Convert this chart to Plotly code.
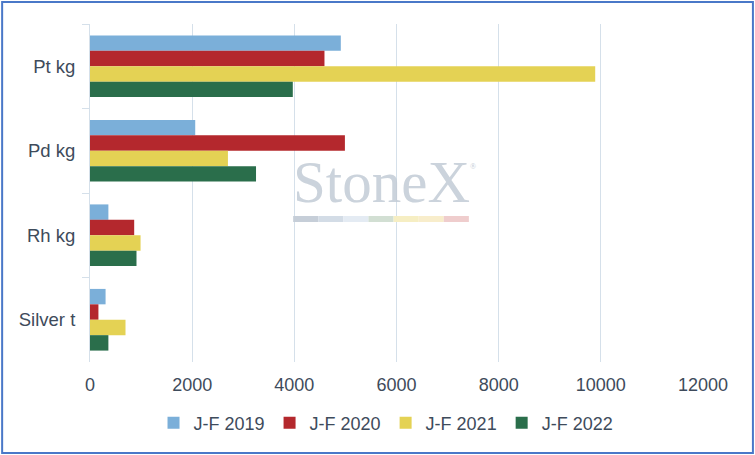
import plotly.graph_objects as go

metals = ["Pt kg", "Pd kg", "Rh kg", "Silver t"]
periods = ["J-F 2019", "J-F 2020", "J-F 2021", "J-F 2022"]
values = {
    "J-F 2019": [4910, 2060, 360, 305],
    "J-F 2020": [4590, 4990, 865, 165],
    "J-F 2021": [9890, 2700, 990, 695],
    "J-F 2022": [3970, 3250, 910, 360],
}
colors = ["#7bafd9", "#b4282d", "#e4d254", "#2a6e4b"]
x_ticks = [0, 2000, 4000, 6000, 8000, 10000, 12000]
x_labels = ["0", "2000", "4000", "6000", "8000", "10000", "12000"]
strip_colors = ["#c6ced8", "#d3dce6", "#e4ebf3", "#d2dfd3", "#f6eec3", "#f8edcb", "#efcdcd"]

text_col = "#3e4b5b"
grid_col = "#d5e0ea"

fig = go.Figure()
for name, col in zip(periods, colors):
    fig.add_trace(go.Bar(
        y=metals, x=values[name], name=name, orientation="h",
        marker=dict(color=col, line=dict(width=0)),
    ))

# plot area geometry in pixels (for the frame and watermark)
L, R, T, B = 89.5, 703.5, 24, 362
W, H = R - L, B - T

def px(x):
    return (x - L) / W

def py(y):
    return (B - y) / H

shapes = [dict(type="rect", xref="paper", yref="paper",
               x0=px(1.5), x1=px(753.5), y0=py(453), y1=py(2),
               line=dict(color="#4a78c8", width=2), layer="above")]
seg = (469 - 293) / len(strip_colors)
for i, c in enumerate(strip_colors):
    shapes.append(dict(type="rect", xref="paper", yref="paper",
                       x0=px(293 + i * seg), x1=px(293 + (i + 1) * seg),
                       y0=py(222), y1=py(216), line=dict(width=0),
                       fillcolor=c, layer="above"))

fig.update_layout(
    width=755, height=455,
    margin=dict(l=L, r=755 - R, t=T, b=455 - B),
    paper_bgcolor="white", plot_bgcolor="white",
    barmode="group", bargap=0.27, bargroupgap=0,
    font=dict(family="Liberation Sans, Arial, sans-serif", size=18, color=text_col),
    showlegend=True,
    legend=dict(orientation="h", x=px(386), xanchor="center", y=py(423), yanchor="middle",
                font=dict(size=18, color=text_col), itemwidth=30,
                traceorder="normal"),
    xaxis=dict(range=[0, 12000], tickvals=x_ticks, ticktext=x_labels, showgrid=True,
               gridcolor=grid_col, gridwidth=1, zeroline=False, showline=False, ticks="",
               ticklabelstandoff=10, fixedrange=True),
    yaxis=dict(autorange="reversed", showline=True, linecolor=grid_col, linewidth=1,
               ticks="outside", tickson="boundaries", ticklen=7, tickcolor=grid_col,
               showgrid=False, ticklabelstandoff=10, tickfont=dict(size=18.5)),
    shapes=shapes,
    annotations=[
        dict(text="StoneX", xref="paper", yref="paper", x=px(381), y=py(182),
             showarrow=False, font=dict(family="Liberation Serif, Times New Roman, serif",
                                         size=59, color="#c3ccd6"), opacity=0.85),
        dict(text="®", xref="paper", yref="paper", x=px(473), y=py(166),
             showarrow=False, font=dict(family="Liberation Serif", size=8, color="#c3ccd6")),
    ],
)

fig.write_html("out.html", config={"displayModeBar": False},
               post_script="document.body.style.margin='0';")
